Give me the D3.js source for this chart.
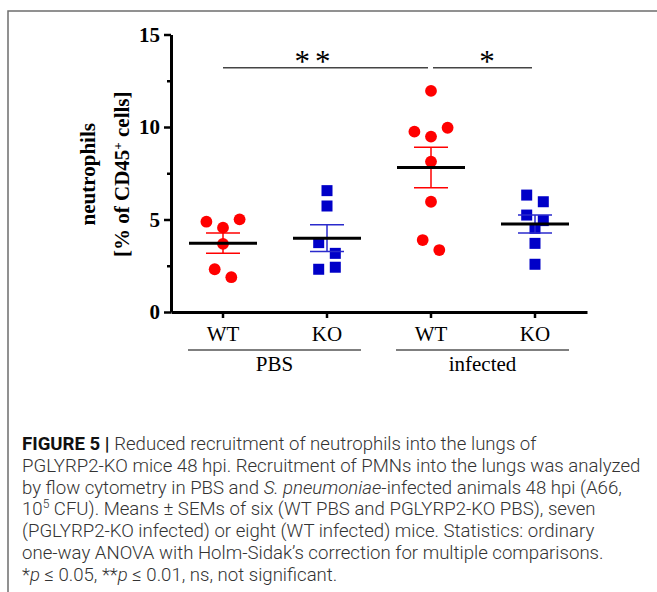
<!DOCTYPE html>
<meta charset="utf-8">
<style>
  body { margin: 0; background: #fff; }
  .axis path, .axis line { stroke: #000; }
  .ytick text { font: bold 21px "Liberation Serif", "Times New Roman", serif; fill: #000; }
  .xtick text { font: 21px "Liberation Serif", "Times New Roman", serif; fill: #000; }
  .ytitle { font: bold 21px "Liberation Serif", "Times New Roman", serif; }
  .grp { font: 21px "Liberation Serif", "Times New Roman", serif; }
  .stars { font: 31px "Liberation Serif", "Times New Roman", serif; }
  .caption { font: 300 18.6px Roboto, "Liberation Sans", Arial, sans-serif; fill: #333; }
</style>
<svg width="657" height="592"></svg>
<script src="https://cdn.jsdelivr.net/npm/d3@7"></script>
<script>

// groups on the x axis
var groups = ["WT PBS", "KO PBS", "WT infected", "KO infected"];
var tickLabels = ["WT", "KO", "WT", "KO"];
var conditions = ["PBS", "infected"];

// neutrophils [% of CD45+ cells], one value per mouse
var wtPBS = [4.88, 4.56, 5.01, 3.68, 2.31, 1.88];
var koPBS = [6.56, 5.73, 3.75, 3.17, 2.31, 2.42];
var wtInfected = [11.95, 9.75, 9.48, 9.96, 8.13, 5.96, 3.89, 3.35];
var koInfected = [6.32, 5.96, 5.24, 4.94, 4.52, 3.71, 2.58];

var yTicks = [0, 5, 10, 15];
var yMinorTicks = [2.5, 7.5, 12.5];

// significance brackets
var compFrom = ["WT PBS", "WT infected"];
var compTo = ["WT infected", "KO infected"];
var compLabel = ["**", "*"];

var series = groups.map(function(g, i) {
  return {group: g, label: tickLabels[i], ko: i % 2 == 1,
          values: [wtPBS, koPBS, wtInfected, koInfected][i]};
});

var svg = d3.select("svg"),
    margin = {top: 34.5, right: 70, bottom: 280, left: 171},
    width = +svg.attr("width") - margin.left - margin.right,
    height = +svg.attr("height") - margin.top - margin.bottom;

// caption frame
svg.append("rect")
    .attr("x", 8).attr("y", 11)
    .attr("width", 700).attr("height", 700)
    .attr("fill", "none").attr("stroke", "#6e6e6e").attr("stroke-width", 1.5);

var g = svg.append("g").attr("transform", "translate(" + margin.left + "," + margin.top + ")");

var y = d3.scaleLinear().domain([0, 15]).range([height, 0]);
var x = d3.scaleBand().domain(groups).range([0, width]).padding(0);

var red = "#ff0000", blue = "#0000c8";

// y axis: major + minor ticks
g.append("g")
    .attr("class", "axis ytick")
    .call(d3.axisLeft(y).tickValues(yTicks).tickSize(7).tickSizeOuter(0).tickPadding(4))
    .call(function(a) { a.select(".domain").attr("stroke-width", 3); a.selectAll("line").attr("stroke-width", 2.5); });
g.append("g")
    .attr("class", "axis")
    .call(d3.axisLeft(y).tickValues(yMinorTicks).tickSize(4).tickSizeOuter(0).tickFormat(""))
    .call(function(a) { a.select(".domain").remove(); a.selectAll("line").attr("stroke-width", 2.5); });

// x axis
g.append("g")
    .attr("class", "axis xtick")
    .attr("transform", "translate(0," + height + ")")
    .call(d3.axisBottom(x).tickSize(6).tickSizeOuter(0).tickPadding(8).tickFormat(function(d, i) { return tickLabels[i]; }))
    .call(function(a) { a.select(".domain").attr("stroke-width", 3); a.selectAll("line").attr("stroke-width", 2.5); });

// condition group lines + labels
conditions.forEach(function(c, i) {
  var x0 = x(groups[i * 2]) + 17, x1 = x(groups[i * 2 + 1]) + x.bandwidth() - 18;
  g.append("line")
      .attr("x1", x0).attr("x2", x1)
      .attr("y1", height + 38).attr("y2", height + 38)
      .attr("stroke", "#000").attr("stroke-width", 1.2);
  g.append("text")
      .attr("class", "grp")
      .attr("x", (x0 + x1) / 2).attr("y", height + 59)
      .attr("text-anchor", "middle")
      .text(c);
});

// y title
var yt = svg.append("text")
    .attr("class", "ytitle")
    .attr("text-anchor", "middle")
    .attr("transform", "translate(0," + (margin.top + height / 2 + 1) + ") rotate(-90)");
yt.append("tspan").attr("x", 0).attr("y", 95).text("neutrophils");
var t2 = yt.append("tspan").attr("x", 0).attr("y", 129);
t2.append("tspan").text("[% of CD45");
t2.append("tspan").attr("baseline-shift", "super").attr("font-size", "13px").text("+");
t2.append("tspan").text(" cells]");

// simple scatter layout: points within one row are spread symmetrically
function swarm(values) {
  var pts = values.map(function(v, i) { return {v: v, i: i, py: y(v)}; });
  var sorted = pts.slice().sort(function(a, b) { return a.py - b.py; });
  var rows = [], cur = null;
  sorted.forEach(function(p) {
    if (!cur || p.py - cur.start > 12) { cur = {start: p.py, pts: []}; rows.push(cur); }
    cur.pts.push(p);
  });
  rows.forEach(function(r) {
    r.pts.sort(function(a, b) { return a.i - b.i; });
    r.pts.forEach(function(p, j) { p.dx = (j - (r.pts.length - 1) / 2) * 16.6; });
  });
  return pts;
}

var cols = g.selectAll(".col")
  .data(series)
  .enter().append("g")
    .attr("class", "col")
    .attr("transform", function(d) { return "translate(" + (x(d.group) + x.bandwidth() / 2) + ",0)"; });

cols.each(function(d) {
  var c = d3.select(this), col = d.ko ? blue : red;
  var pts = swarm(d.values);
  if (d.ko) {
    c.selectAll("rect").data(pts).enter().append("rect")
        .attr("x", function(p) { return p.dx - 5.5; })
        .attr("y", function(p) { return p.py - 5.5; })
        .attr("width", 11).attr("height", 11)
        .attr("fill", col);
  } else {
    c.selectAll("circle").data(pts).enter().append("circle")
        .attr("cx", function(p) { return p.dx; })
        .attr("cy", function(p) { return p.py; })
        .attr("r", 5.9)
        .attr("fill", col);
  }
  var m = d3.mean(d.values), sem = d3.deviation(d.values) / Math.sqrt(d.values.length);
  var eb = c.append("g").attr("stroke", d.ko ? "#2a2acc" : red).attr("stroke-width", 1.5);
  eb.append("line").attr("x1", 0).attr("x2", 0).attr("y1", y(m + sem)).attr("y2", y(m - sem));
  [m + sem, m - sem].forEach(function(v) {
    eb.append("line").attr("x1", -17).attr("x2", 17).attr("y1", y(v)).attr("y2", y(v));
  });
  c.append("line")
      .attr("x1", -34).attr("x2", 34)
      .attr("y1", y(m)).attr("y2", y(m))
      .attr("stroke", "#000").attr("stroke-width", 3);
});

// significance bars
compLabel.forEach(function(lab, i) {
  var a = x(compFrom[i]) + x.bandwidth() / 2, b = x(compTo[i]) + x.bandwidth() / 2;
  var ly = y(13.2);
  g.append("line")
      .attr("x1", a + (i > 0 ? 2 : 0)).attr("x2", b - 3)
      .attr("y1", ly).attr("y2", ly)
      .attr("stroke", "#444").attr("stroke-width", 1.5);
  g.append("text")
      .attr("class", "stars")
      .attr("x", (a + b) / 2 - (lab.length > 1 ? 12 : -4)).attr("y", ly + 4)
      .attr("text-anchor", "middle")
      .attr("letter-spacing", lab.length > 1 ? 5 : 0)
      .text(lab);
});

// figure caption
var cap = svg.append("text").attr("class", "caption");
var lines = [
  [["FIGURE 5 | ", "b"], ["Reduced recruitment of neutrophils into the lungs of"]],
  [["PGLYRP2-KO mice 48 hpi. Recruitment of PMNs into the lungs was analyzed"]],
  [["by flow cytometry in PBS and "], ["S. pneumoniae", "i"], ["-infected animals 48 hpi (A66,"]],
  [["10"], ["5", "sup"], [" CFU). Means \u00b1 SEMs of six (WT PBS and PGLYRP2-KO PBS), seven"]],
  [["(PGLYRP2-KO infected) or eight (WT infected) mice. Statistics: ordinary"]],
  [["one-way ANOVA with Holm-Sidak\u2019s correction for multiple comparisons."]],
  [["*"], ["p", "i"], [" \u2264 0.05, **"], ["p", "i"], [" \u2264 0.01, ns, not significant."]]
];
lines.forEach(function(parts, li) {
  var ln = cap.append("tspan").attr("x", 22).attr("y", 450 + li * 21.8);
  parts.forEach(function(p) {
    var s = ln.append("tspan").text(p[0]);
    if (p[1] == "b") s.attr("font-weight", 700).attr("fill", "#111");
    if (p[1] == "i") s.attr("font-style", "italic");
    if (p[1] == "sup") s.attr("font-size", "12px").attr("dy", -7);
  });
  if (parts.some(function(p) { return p[1] == "sup"; })) {
    ln.selectAll("tspan").filter(function(d, k) { return k == 2; }).attr("dy", 7);
  }
});

</script>
